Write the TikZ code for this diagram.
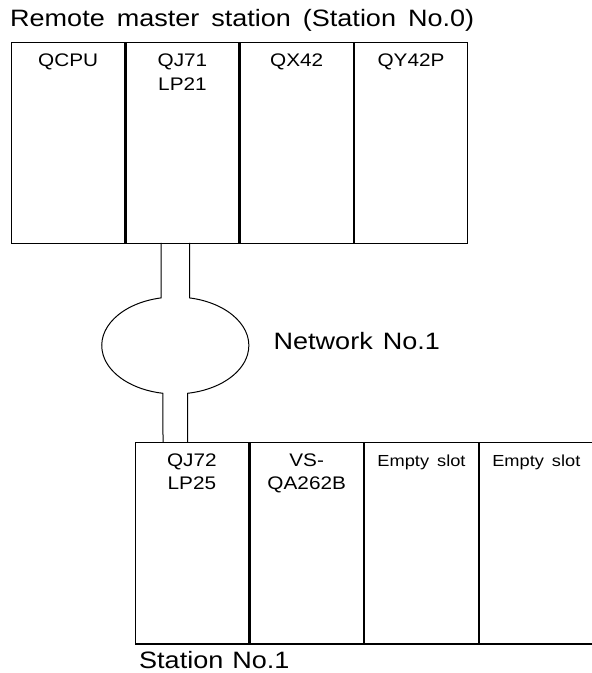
\documentclass[tikz,border=0pt]{standalone}
\usepackage{fontspec}
\setmainfont[FakeStretch=1.14]{Liberation Sans}
\newcommand\tgap{\hspace{12pt}}
\newcommand\wgap{\hspace{10pt}}
\newcommand\sgap{\hspace{8pt}}
\begin{document}
\begin{tikzpicture}[x=1pt,y=1pt,
  topslot/.style={draw, line width=1.3pt, minimum width=113pt, minimum height=201pt, inner sep=0pt, anchor=north west},
  botslot/.style={draw, line width=1.3pt, minimum width=113.5pt, minimum height=201.5pt, inner sep=0pt, anchor=north west},
  lbl/.style={inner sep=0pt, align=center, font=\fontsize{18.2}{23.3}\selectfont},
  smalllbl/.style={inner sep=0pt, align=center, font=\fontsize{16}{20}\selectfont},
  bigtxt/.style={inner sep=0pt, anchor=base west, font=\fontsize{23.7}{28}\selectfont},
  cable/.style={draw, line width=1pt}]
\useasboundingbox (0,0) rectangle (592,673);
% title
\node[bigtxt] (title) at (10,646) {Remote\tgap master\tgap station\tgap (Station\tgap No.0)};
% top station
\node[topslot] (qcpu) at (11,631) {};
\node[topslot] (qj71) at (qcpu.north east) {};
\node[topslot] (qx42) at (qj71.north east) {};
\node[topslot] (qy42) at (qx42.north east) {};
\node[lbl, below=12pt] (lqcpu) at (qcpu.north) {QCPU};
\node[lbl, below=12pt] (lqj71) at (qj71.north) {QJ71\\LP21};
\node[lbl, below=12pt] (lqx42) at (qx42.north) {QX42};
\node[lbl, below=12pt] (lqy42) at (qy42.north) {QY42P};
% bottom station
\node[botslot] (qj72) at (134.5,231) {};
\node[botslot] (vs) at (qj72.north east) {};
\node[botslot] (es1) at (vs.north east) {};
\node[botslot] (es2) at (es1.north east) {};
\node[lbl, below=11.5pt] (lqj72) at (qj72.north) {QJ72\\LP25};
\node[lbl, below=11.5pt] (lvs) at (vs.north) {VS-\\QA262B};
\node[smalllbl, below=12.5pt] (les1) at (es1.north) {Empty\sgap slot};
\node[smalllbl, below=12.5pt] (les2) at (es2.north) {Empty\sgap slot};
\node[bigtxt] (st1) at (139,5) {Station\hspace{9pt}No.1};
% network
\node[bigtxt] (net) at (273.5,323) {Network\wgap No.1};
\coordinate (tl) at (161.1,430);
\coordinate (tr) at (189.5,430);
\coordinate (bl) at (163.0,231);
\coordinate (br) at (187.6,231);
\path[cable] (tl) -- (161.1,375.1) arc[start angle=101.1, end angle=260.4, x radius=73.5, y radius=48.5] -- (bl);
\path[cable] (tr) -- (189.5,375.1) arc[start angle=78.9, end angle=-80.4, x radius=73.5, y radius=48.5] -- (br);
\end{tikzpicture}
\end{document}
